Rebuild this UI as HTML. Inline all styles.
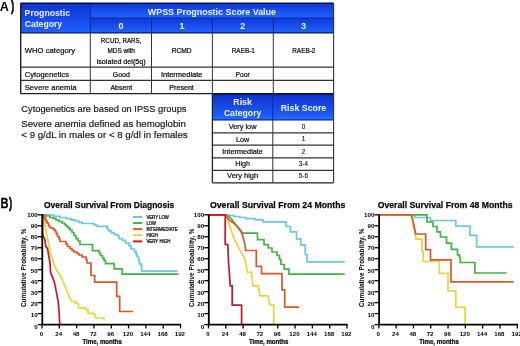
<!DOCTYPE html>
<html><head><meta charset="utf-8"><style>
html,body{margin:0;padding:0;background:#fff;}
body{width:520px;height:346px;overflow:hidden;}
svg{display:block;font-family:"Liberation Sans", sans-serif;will-change:transform;}
</style></head><body>
<svg width="520" height="346" viewBox="0 0 520 346">
<defs>
<linearGradient id="hg" x1="0" y1="0" x2="0" y2="1">
<stop offset="0" stop-color="#0e32d2"/><stop offset="1" stop-color="#1f62ff"/>
</linearGradient>
<linearGradient id="hg2" x1="0" y1="0" x2="0" y2="1">
<stop offset="0" stop-color="#0f38d8"/><stop offset="1" stop-color="#2064ff"/>
</linearGradient>
<linearGradient id="hg3" x1="0" y1="0" x2="0" y2="1">
<stop offset="0" stop-color="#0e30cc"/><stop offset="0.85" stop-color="#1e5ef8"/><stop offset="1" stop-color="#2a6cff"/>
</linearGradient>
</defs>
<rect width="520" height="346" fill="#fff"/>
<text x="-0.2" y="10.8" font-size="12.8" font-weight="bold" fill="#000" textLength="9.2" lengthAdjust="spacingAndGlyphs">A</text>
<text x="11.0" y="11.0" font-size="14.6" stroke="#000" stroke-width="0.5" font-weight="bold" fill="#000" textLength="3.2" lengthAdjust="spacingAndGlyphs">)</text>
<rect x="20.7" y="3.3" width="312.90000000000003" height="29.599999999999998" fill="url(#hg)"/>
<rect x="90.3" y="18.0" width="243.3" height="14.899999999999999" fill="url(#hg2)"/>
<rect x="90.3" y="3.3" width="243.3" height="14.7" fill="url(#hg2)"/>
<line x1="20.7" y1="3.3" x2="333.6" y2="3.3" stroke="#06103e" stroke-width="1.5"/>
<line x1="90.3" y1="18.0" x2="333.6" y2="18.0" stroke="#0c2a9a" stroke-width="1.1"/>
<line x1="20.7" y1="32.9" x2="333.6" y2="32.9" stroke="#0b1a55" stroke-width="1.3"/>
<line x1="90.3" y1="3.3" x2="90.3" y2="32.9" stroke="#0c2a9a" stroke-width="1"/>
<line x1="151.5" y1="18.0" x2="151.5" y2="32.9" stroke="#0c2a9a" stroke-width="1"/>
<line x1="212.4" y1="18.0" x2="212.4" y2="32.9" stroke="#0c2a9a" stroke-width="1"/>
<line x1="273.3" y1="18.0" x2="273.3" y2="32.9" stroke="#0c2a9a" stroke-width="1"/>
<line x1="20.7" y1="67.2" x2="333.6" y2="67.2" stroke="#333" stroke-width="1.2"/>
<line x1="20.7" y1="80.4" x2="333.6" y2="80.4" stroke="#333" stroke-width="1.2"/>
<line x1="20.7" y1="93.7" x2="333.6" y2="93.7" stroke="#222" stroke-width="1.3"/>
<line x1="90.3" y1="32.9" x2="90.3" y2="93.7" stroke="#333" stroke-width="1"/>
<line x1="151.5" y1="32.9" x2="151.5" y2="93.7" stroke="#333" stroke-width="1"/>
<line x1="212.4" y1="32.9" x2="212.4" y2="93.7" stroke="#333" stroke-width="1"/>
<line x1="273.3" y1="32.9" x2="273.3" y2="93.7" stroke="#333" stroke-width="1"/>
<line x1="20.7" y1="3.3" x2="20.7" y2="93.7" stroke="#222" stroke-width="1.4"/>
<line x1="333.6" y1="3.3" x2="333.6" y2="93.7" stroke="#333" stroke-width="1.1"/>
<text x="24.6" y="16.2" font-size="8.8" font-weight="bold" fill="#eef4ff" textLength="45.4" lengthAdjust="spacingAndGlyphs">Prognostic</text>
<text x="24.7" y="27.2" font-size="8.8" font-weight="bold" fill="#eef4ff" textLength="37.4" lengthAdjust="spacingAndGlyphs">Category</text>
<text x="147.8" y="14.5" font-size="8.9" font-weight="bold" fill="#eef4ff" textLength="128.2" lengthAdjust="spacingAndGlyphs">WPSS Prognostic Score Value</text>
<text x="120.9" y="29.0" font-size="9" font-weight="bold" text-anchor="middle" fill="#eef4ff">0</text>
<text x="181.95" y="29.0" font-size="9" font-weight="bold" text-anchor="middle" fill="#eef4ff">1</text>
<text x="242.85000000000002" y="29.0" font-size="9" font-weight="bold" text-anchor="middle" fill="#eef4ff">2</text>
<text x="303.45000000000005" y="29.0" font-size="9" font-weight="bold" text-anchor="middle" fill="#eef4ff">3</text>
<text x="24.7" y="53.2" font-size="7.8" stroke="#111" stroke-width="0.2" textLength="50.5" lengthAdjust="spacingAndGlyphs">WHO category</text>
<text x="24.7" y="76.8" font-size="7.8" stroke="#111" stroke-width="0.2" textLength="44.3" lengthAdjust="spacingAndGlyphs">Cytogenetics</text>
<text x="24.7" y="90.2" font-size="7.8" stroke="#111" stroke-width="0.2" textLength="51.8" lengthAdjust="spacingAndGlyphs">Severe anemia</text>
<text x="121.2" y="42.6" font-size="7.2" stroke="#111" stroke-width="0.22" text-anchor="middle" textLength="40.7" lengthAdjust="spacingAndGlyphs">RCUD, RARS,</text>
<text x="121.2" y="53.1" font-size="7.2" stroke="#111" stroke-width="0.22" text-anchor="middle" textLength="27.5" lengthAdjust="spacingAndGlyphs">MDS with</text>
<text x="121.2" y="63.6" font-size="7.2" stroke="#111" stroke-width="0.22" text-anchor="middle" textLength="49.0" lengthAdjust="spacingAndGlyphs">isolated del(5q)</text>
<text x="181.7" y="53.1" font-size="7.2" stroke="#111" stroke-width="0.22" text-anchor="middle" textLength="20.0" lengthAdjust="spacingAndGlyphs">RCMD</text>
<text x="243.3" y="53.2" font-size="7.2" stroke="#111" stroke-width="0.22" text-anchor="middle" textLength="23.1" lengthAdjust="spacingAndGlyphs">RAEB-1</text>
<text x="303.8" y="53.2" font-size="7.2" stroke="#111" stroke-width="0.22" text-anchor="middle" textLength="23.1" lengthAdjust="spacingAndGlyphs">RAEB-2</text>
<text x="121.3" y="76.8" font-size="7.2" stroke="#111" stroke-width="0.22" text-anchor="middle" textLength="17.0" lengthAdjust="spacingAndGlyphs">Good</text>
<text x="181.7" y="76.8" font-size="7.2" stroke="#111" stroke-width="0.22" text-anchor="middle" textLength="41.6" lengthAdjust="spacingAndGlyphs">Intermediate</text>
<text x="242.6" y="76.7" font-size="7.2" stroke="#111" stroke-width="0.22" text-anchor="middle" textLength="14.2" lengthAdjust="spacingAndGlyphs">Poor</text>
<text x="121.3" y="90.1" font-size="7.2" stroke="#111" stroke-width="0.22" text-anchor="middle" textLength="21.7" lengthAdjust="spacingAndGlyphs">Absent</text>
<text x="181.6" y="90.1" font-size="7.2" stroke="#111" stroke-width="0.22" text-anchor="middle" textLength="24.5" lengthAdjust="spacingAndGlyphs">Present</text>
<text x="21.3" y="112.4" font-size="9.6" stroke="#1a1a1a" stroke-width="0.2" fill="#1a1a1a" textLength="165.2" lengthAdjust="spacingAndGlyphs">Cytogenetics are based on IPSS groups</text>
<text x="21.3" y="127.1" font-size="9.6" stroke="#1a1a1a" stroke-width="0.2" fill="#1a1a1a" textLength="164.5" lengthAdjust="spacingAndGlyphs">Severe anemia defined as hemoglobin</text>
<text x="21.3" y="137.9" font-size="9.6" stroke="#1a1a1a" stroke-width="0.2" fill="#1a1a1a" textLength="166.4" lengthAdjust="spacingAndGlyphs">&lt; 9 g/dL in males or &lt; 8 g/dl in females</text>
<rect x="212.4" y="94.0" width="121.20000000000002" height="26.0" fill="url(#hg3)"/>
<line x1="212.4" y1="94.0" x2="333.6" y2="94.0" stroke="#06103e" stroke-width="1.5"/>
<line x1="212.4" y1="120.0" x2="333.6" y2="120.0" stroke="#0b1a55" stroke-width="1.2"/>
<line x1="272.8" y1="94.0" x2="272.8" y2="120.0" stroke="#0c2a9a" stroke-width="1"/>
<line x1="212.4" y1="132.9" x2="333.6" y2="132.9" stroke="#333" stroke-width="1.2"/>
<line x1="212.4" y1="145.2" x2="333.6" y2="145.2" stroke="#333" stroke-width="1.2"/>
<line x1="212.4" y1="157.8" x2="333.6" y2="157.8" stroke="#333" stroke-width="1.2"/>
<line x1="212.4" y1="170.3" x2="333.6" y2="170.3" stroke="#333" stroke-width="1.2"/>
<line x1="212.4" y1="182.8" x2="333.6" y2="182.8" stroke="#222" stroke-width="1.3"/>
<line x1="272.8" y1="120.0" x2="272.8" y2="182.8" stroke="#333" stroke-width="1"/>
<line x1="212.4" y1="94.0" x2="212.4" y2="182.8" stroke="#222" stroke-width="1.3"/>
<line x1="333.6" y1="94.0" x2="333.6" y2="182.8" stroke="#333" stroke-width="1.1"/>
<text x="242.6" y="105.2" font-size="8.8" font-weight="bold" text-anchor="middle" fill="#eef4ff" textLength="18.6" lengthAdjust="spacingAndGlyphs">Risk</text>
<text x="242.6" y="116.1" font-size="8.8" font-weight="bold" text-anchor="middle" fill="#eef4ff" textLength="37.4" lengthAdjust="spacingAndGlyphs">Category</text>
<text x="303.5" y="110.9" font-size="8.8" font-weight="bold" text-anchor="middle" fill="#eef4ff" textLength="45.5" lengthAdjust="spacingAndGlyphs">Risk Score</text>
<text x="242.6" y="129.2" font-size="7.5" stroke="#111" stroke-width="0.2" text-anchor="middle" textLength="27.9" lengthAdjust="spacingAndGlyphs">Very low</text>
<text x="303.4" y="128.89999999999998" font-size="6.3" stroke="#111" stroke-width="0.08" text-anchor="middle">0</text>
<text x="242.6" y="141.6" font-size="7.5" stroke="#111" stroke-width="0.2" text-anchor="middle" textLength="13.2" lengthAdjust="spacingAndGlyphs">Low</text>
<text x="303.4" y="141.29999999999998" font-size="6.3" stroke="#111" stroke-width="0.08" text-anchor="middle">1</text>
<text x="242.6" y="153.9" font-size="7.5" stroke="#111" stroke-width="0.2" text-anchor="middle" textLength="40.7" lengthAdjust="spacingAndGlyphs">Intermediate</text>
<text x="303.4" y="153.6" font-size="6.3" stroke="#111" stroke-width="0.08" text-anchor="middle">2</text>
<text x="242.6" y="166.4" font-size="7.5" stroke="#111" stroke-width="0.2" text-anchor="middle" textLength="14.5" lengthAdjust="spacingAndGlyphs">High</text>
<text x="303.4" y="166.1" font-size="6.3" stroke="#111" stroke-width="0.08" text-anchor="middle">3-4</text>
<text x="242.6" y="178.1" font-size="7.5" stroke="#111" stroke-width="0.2" text-anchor="middle" textLength="31.0" lengthAdjust="spacingAndGlyphs">Very high</text>
<text x="303.4" y="177.79999999999998" font-size="6.3" stroke="#111" stroke-width="0.08" text-anchor="middle">5-6</text>
<text x="0.5" y="207.6" font-size="13.8" stroke="#000" stroke-width="0.35" font-weight="bold" fill="#000" textLength="8.0" lengthAdjust="spacingAndGlyphs">B</text>
<text x="9.0" y="207.9" font-size="14.6" stroke="#000" stroke-width="0.5" font-weight="bold" fill="#000" textLength="3.2" lengthAdjust="spacingAndGlyphs">)</text>
<text x="44.0" y="208.0" font-size="9.8" stroke="#111" stroke-width="0.25" font-weight="bold" textLength="130.3" lengthAdjust="spacingAndGlyphs">Overall Survival From Diagnosis</text>
<line x1="37.7" y1="324.60" x2="42.0" y2="324.60" stroke="#000" stroke-width="1.3"/>
<text x="37.6" y="328.5" font-size="6.2" font-weight="bold" text-anchor="end">0</text>
<line x1="37.7" y1="313.62" x2="42.0" y2="313.62" stroke="#000" stroke-width="1.3"/>
<text x="37.6" y="317.31" font-size="6.2" font-weight="bold" text-anchor="end">10</text>
<line x1="37.7" y1="302.64" x2="42.0" y2="302.64" stroke="#000" stroke-width="1.3"/>
<text x="37.6" y="306.12" font-size="6.2" font-weight="bold" text-anchor="end">20</text>
<line x1="37.7" y1="291.66" x2="42.0" y2="291.66" stroke="#000" stroke-width="1.3"/>
<text x="37.6" y="294.93" font-size="6.2" font-weight="bold" text-anchor="end">30</text>
<line x1="37.7" y1="280.68" x2="42.0" y2="280.68" stroke="#000" stroke-width="1.3"/>
<text x="37.6" y="283.74" font-size="6.2" font-weight="bold" text-anchor="end">40</text>
<line x1="37.7" y1="269.70" x2="42.0" y2="269.70" stroke="#000" stroke-width="1.3"/>
<text x="37.6" y="272.55" font-size="6.2" font-weight="bold" text-anchor="end">50</text>
<line x1="37.7" y1="258.72" x2="42.0" y2="258.72" stroke="#000" stroke-width="1.3"/>
<text x="37.6" y="261.36" font-size="6.2" font-weight="bold" text-anchor="end">60</text>
<line x1="37.7" y1="247.74" x2="42.0" y2="247.74" stroke="#000" stroke-width="1.3"/>
<text x="37.6" y="250.17" font-size="6.2" font-weight="bold" text-anchor="end">70</text>
<line x1="37.7" y1="236.76" x2="42.0" y2="236.76" stroke="#000" stroke-width="1.3"/>
<text x="37.6" y="238.98" font-size="6.2" font-weight="bold" text-anchor="end">80</text>
<line x1="37.7" y1="225.78" x2="42.0" y2="225.78" stroke="#000" stroke-width="1.3"/>
<text x="37.6" y="227.79" font-size="6.2" font-weight="bold" text-anchor="end">90</text>
<line x1="37.7" y1="214.80" x2="42.0" y2="214.80" stroke="#000" stroke-width="1.3"/>
<text x="37.6" y="216.6" font-size="6.2" font-weight="bold" text-anchor="end">100</text>
<line x1="42.00" y1="324.6" x2="42.00" y2="328.40000000000003" stroke="#000" stroke-width="1.3"/>
<text x="41.4" y="336.0" font-size="6.1" font-weight="bold" text-anchor="middle">0</text>
<line x1="59.31" y1="324.6" x2="59.31" y2="328.40000000000003" stroke="#000" stroke-width="1.3"/>
<text x="58.71" y="336.0" font-size="6.1" font-weight="bold" text-anchor="middle">24</text>
<line x1="76.62" y1="324.6" x2="76.62" y2="328.40000000000003" stroke="#000" stroke-width="1.3"/>
<text x="76.03" y="336.0" font-size="6.1" font-weight="bold" text-anchor="middle">48</text>
<line x1="93.94" y1="324.6" x2="93.94" y2="328.40000000000003" stroke="#000" stroke-width="1.3"/>
<text x="93.34" y="336.0" font-size="6.1" font-weight="bold" text-anchor="middle">72</text>
<line x1="111.25" y1="324.6" x2="111.25" y2="328.40000000000003" stroke="#000" stroke-width="1.3"/>
<text x="110.65" y="336.0" font-size="6.1" font-weight="bold" text-anchor="middle">96</text>
<line x1="128.56" y1="324.6" x2="128.56" y2="328.40000000000003" stroke="#000" stroke-width="1.3"/>
<text x="127.96" y="336.0" font-size="6.1" font-weight="bold" text-anchor="middle">120</text>
<line x1="145.88" y1="324.6" x2="145.88" y2="328.40000000000003" stroke="#000" stroke-width="1.3"/>
<text x="145.28" y="336.0" font-size="6.1" font-weight="bold" text-anchor="middle">144</text>
<line x1="163.19" y1="324.6" x2="163.19" y2="328.40000000000003" stroke="#000" stroke-width="1.3"/>
<text x="162.59" y="336.0" font-size="6.1" font-weight="bold" text-anchor="middle">168</text>
<line x1="180.50" y1="324.6" x2="180.50" y2="328.40000000000003" stroke="#000" stroke-width="1.3"/>
<text x="179.9" y="336.0" font-size="6.1" font-weight="bold" text-anchor="middle">192</text>
<text x="102.2" y="344.3" font-size="6.6" stroke="#111" stroke-width="0.22" font-weight="bold" text-anchor="middle" textLength="39.6" lengthAdjust="spacingAndGlyphs">Time, months</text>
<text x="0" y="0" font-size="6.8" font-weight="bold" text-anchor="middle" textLength="78.5" lengthAdjust="spacingAndGlyphs" transform="translate(26.3,267.8) rotate(-90)">Cumulative Probability, %</text>
<text x="210.0" y="208.0" font-size="9.8" stroke="#111" stroke-width="0.25" font-weight="bold" textLength="135.4" lengthAdjust="spacingAndGlyphs">Overall Survival From 24 Months</text>
<line x1="204.2" y1="324.60" x2="208.5" y2="324.60" stroke="#000" stroke-width="1.3"/>
<text x="204.1" y="328.5" font-size="6.2" font-weight="bold" text-anchor="end">0</text>
<line x1="204.2" y1="313.62" x2="208.5" y2="313.62" stroke="#000" stroke-width="1.3"/>
<text x="204.1" y="317.31" font-size="6.2" font-weight="bold" text-anchor="end">10</text>
<line x1="204.2" y1="302.64" x2="208.5" y2="302.64" stroke="#000" stroke-width="1.3"/>
<text x="204.1" y="306.12" font-size="6.2" font-weight="bold" text-anchor="end">20</text>
<line x1="204.2" y1="291.66" x2="208.5" y2="291.66" stroke="#000" stroke-width="1.3"/>
<text x="204.1" y="294.93" font-size="6.2" font-weight="bold" text-anchor="end">30</text>
<line x1="204.2" y1="280.68" x2="208.5" y2="280.68" stroke="#000" stroke-width="1.3"/>
<text x="204.1" y="283.74" font-size="6.2" font-weight="bold" text-anchor="end">40</text>
<line x1="204.2" y1="269.70" x2="208.5" y2="269.70" stroke="#000" stroke-width="1.3"/>
<text x="204.1" y="272.55" font-size="6.2" font-weight="bold" text-anchor="end">50</text>
<line x1="204.2" y1="258.72" x2="208.5" y2="258.72" stroke="#000" stroke-width="1.3"/>
<text x="204.1" y="261.36" font-size="6.2" font-weight="bold" text-anchor="end">60</text>
<line x1="204.2" y1="247.74" x2="208.5" y2="247.74" stroke="#000" stroke-width="1.3"/>
<text x="204.1" y="250.17" font-size="6.2" font-weight="bold" text-anchor="end">70</text>
<line x1="204.2" y1="236.76" x2="208.5" y2="236.76" stroke="#000" stroke-width="1.3"/>
<text x="204.1" y="238.98" font-size="6.2" font-weight="bold" text-anchor="end">80</text>
<line x1="204.2" y1="225.78" x2="208.5" y2="225.78" stroke="#000" stroke-width="1.3"/>
<text x="204.1" y="227.79" font-size="6.2" font-weight="bold" text-anchor="end">90</text>
<line x1="204.2" y1="214.80" x2="208.5" y2="214.80" stroke="#000" stroke-width="1.3"/>
<text x="204.1" y="216.6" font-size="6.2" font-weight="bold" text-anchor="end">100</text>
<line x1="208.50" y1="324.6" x2="208.50" y2="328.40000000000003" stroke="#000" stroke-width="1.3"/>
<text x="207.9" y="336.0" font-size="6.1" font-weight="bold" text-anchor="middle">0</text>
<line x1="225.81" y1="324.6" x2="225.81" y2="328.40000000000003" stroke="#000" stroke-width="1.3"/>
<text x="225.21" y="336.0" font-size="6.1" font-weight="bold" text-anchor="middle">24</text>
<line x1="243.12" y1="324.6" x2="243.12" y2="328.40000000000003" stroke="#000" stroke-width="1.3"/>
<text x="242.53" y="336.0" font-size="6.1" font-weight="bold" text-anchor="middle">48</text>
<line x1="260.44" y1="324.6" x2="260.44" y2="328.40000000000003" stroke="#000" stroke-width="1.3"/>
<text x="259.84" y="336.0" font-size="6.1" font-weight="bold" text-anchor="middle">72</text>
<line x1="277.75" y1="324.6" x2="277.75" y2="328.40000000000003" stroke="#000" stroke-width="1.3"/>
<text x="277.15" y="336.0" font-size="6.1" font-weight="bold" text-anchor="middle">96</text>
<line x1="295.06" y1="324.6" x2="295.06" y2="328.40000000000003" stroke="#000" stroke-width="1.3"/>
<text x="294.46" y="336.0" font-size="6.1" font-weight="bold" text-anchor="middle">120</text>
<line x1="312.38" y1="324.6" x2="312.38" y2="328.40000000000003" stroke="#000" stroke-width="1.3"/>
<text x="311.77" y="336.0" font-size="6.1" font-weight="bold" text-anchor="middle">144</text>
<line x1="329.69" y1="324.6" x2="329.69" y2="328.40000000000003" stroke="#000" stroke-width="1.3"/>
<text x="329.09" y="336.0" font-size="6.1" font-weight="bold" text-anchor="middle">168</text>
<line x1="347.00" y1="324.6" x2="347.00" y2="328.40000000000003" stroke="#000" stroke-width="1.3"/>
<text x="346.4" y="336.0" font-size="6.1" font-weight="bold" text-anchor="middle">192</text>
<text x="268.7" y="344.3" font-size="6.6" stroke="#111" stroke-width="0.22" font-weight="bold" text-anchor="middle" textLength="39.6" lengthAdjust="spacingAndGlyphs">Time, months</text>
<text x="0" y="0" font-size="6.8" font-weight="bold" text-anchor="middle" textLength="78.5" lengthAdjust="spacingAndGlyphs" transform="translate(193.79999999999998,267.8) rotate(-90)">Cumulative Probability, %</text>
<text x="377.7" y="208.0" font-size="9.8" stroke="#111" stroke-width="0.25" font-weight="bold" textLength="134.9" lengthAdjust="spacingAndGlyphs">Overall Survival From 48 Months</text>
<line x1="374.5" y1="324.60" x2="378.8" y2="324.60" stroke="#000" stroke-width="1.3"/>
<text x="374.40000000000003" y="328.5" font-size="6.2" font-weight="bold" text-anchor="end">0</text>
<line x1="374.5" y1="313.62" x2="378.8" y2="313.62" stroke="#000" stroke-width="1.3"/>
<text x="374.40000000000003" y="317.31" font-size="6.2" font-weight="bold" text-anchor="end">10</text>
<line x1="374.5" y1="302.64" x2="378.8" y2="302.64" stroke="#000" stroke-width="1.3"/>
<text x="374.40000000000003" y="306.12" font-size="6.2" font-weight="bold" text-anchor="end">20</text>
<line x1="374.5" y1="291.66" x2="378.8" y2="291.66" stroke="#000" stroke-width="1.3"/>
<text x="374.40000000000003" y="294.93" font-size="6.2" font-weight="bold" text-anchor="end">30</text>
<line x1="374.5" y1="280.68" x2="378.8" y2="280.68" stroke="#000" stroke-width="1.3"/>
<text x="374.40000000000003" y="283.74" font-size="6.2" font-weight="bold" text-anchor="end">40</text>
<line x1="374.5" y1="269.70" x2="378.8" y2="269.70" stroke="#000" stroke-width="1.3"/>
<text x="374.40000000000003" y="272.55" font-size="6.2" font-weight="bold" text-anchor="end">50</text>
<line x1="374.5" y1="258.72" x2="378.8" y2="258.72" stroke="#000" stroke-width="1.3"/>
<text x="374.40000000000003" y="261.36" font-size="6.2" font-weight="bold" text-anchor="end">60</text>
<line x1="374.5" y1="247.74" x2="378.8" y2="247.74" stroke="#000" stroke-width="1.3"/>
<text x="374.40000000000003" y="250.17" font-size="6.2" font-weight="bold" text-anchor="end">70</text>
<line x1="374.5" y1="236.76" x2="378.8" y2="236.76" stroke="#000" stroke-width="1.3"/>
<text x="374.40000000000003" y="238.98" font-size="6.2" font-weight="bold" text-anchor="end">80</text>
<line x1="374.5" y1="225.78" x2="378.8" y2="225.78" stroke="#000" stroke-width="1.3"/>
<text x="374.40000000000003" y="227.79" font-size="6.2" font-weight="bold" text-anchor="end">90</text>
<line x1="374.5" y1="214.80" x2="378.8" y2="214.80" stroke="#000" stroke-width="1.3"/>
<text x="374.40000000000003" y="216.6" font-size="6.2" font-weight="bold" text-anchor="end">100</text>
<line x1="378.80" y1="324.6" x2="378.80" y2="328.40000000000003" stroke="#000" stroke-width="1.3"/>
<text x="378.2" y="336.0" font-size="6.1" font-weight="bold" text-anchor="middle">0</text>
<line x1="396.11" y1="324.6" x2="396.11" y2="328.40000000000003" stroke="#000" stroke-width="1.3"/>
<text x="395.51" y="336.0" font-size="6.1" font-weight="bold" text-anchor="middle">24</text>
<line x1="413.43" y1="324.6" x2="413.43" y2="328.40000000000003" stroke="#000" stroke-width="1.3"/>
<text x="412.82" y="336.0" font-size="6.1" font-weight="bold" text-anchor="middle">48</text>
<line x1="430.74" y1="324.6" x2="430.74" y2="328.40000000000003" stroke="#000" stroke-width="1.3"/>
<text x="430.14" y="336.0" font-size="6.1" font-weight="bold" text-anchor="middle">72</text>
<line x1="448.05" y1="324.6" x2="448.05" y2="328.40000000000003" stroke="#000" stroke-width="1.3"/>
<text x="447.45" y="336.0" font-size="6.1" font-weight="bold" text-anchor="middle">96</text>
<line x1="465.36" y1="324.6" x2="465.36" y2="328.40000000000003" stroke="#000" stroke-width="1.3"/>
<text x="464.76" y="336.0" font-size="6.1" font-weight="bold" text-anchor="middle">120</text>
<line x1="482.68" y1="324.6" x2="482.68" y2="328.40000000000003" stroke="#000" stroke-width="1.3"/>
<text x="482.07" y="336.0" font-size="6.1" font-weight="bold" text-anchor="middle">144</text>
<line x1="499.99" y1="324.6" x2="499.99" y2="328.40000000000003" stroke="#000" stroke-width="1.3"/>
<text x="499.39" y="336.0" font-size="6.1" font-weight="bold" text-anchor="middle">168</text>
<line x1="517.30" y1="324.6" x2="517.30" y2="328.40000000000003" stroke="#000" stroke-width="1.3"/>
<text x="516.7" y="336.0" font-size="6.1" font-weight="bold" text-anchor="middle">192</text>
<text x="439.0" y="344.3" font-size="6.6" stroke="#111" stroke-width="0.22" font-weight="bold" text-anchor="middle" textLength="39.6" lengthAdjust="spacingAndGlyphs">Time, months</text>
<text x="0" y="0" font-size="6.8" font-weight="bold" text-anchor="middle" textLength="78.5" lengthAdjust="spacingAndGlyphs" transform="translate(363.8,267.8) rotate(-90)">Cumulative Probability, %</text>
<path d="M42,215 H54 V216.3 H60 V217.5 H66 V218.7 H71 V219.8 H75 V221 H79 V222.3 H82 V223.5 H94 V225 H97 V226.3 H107 V228.5 H108.5 V230.8 H111 V232.6 H114 V234.3 H117 V235.5 H119 V238.6 H122.5 V240.4 H125.5 V243 H129 V245.6 H131 V249 H134.5 V251.6 H136 V254 H137 V256.5 H138.5 V260.3 H139.5 V263.9 H141.3 V266 H141.7 V271.2 H177.6" fill="none" stroke="#6cc6dc" stroke-width="1.7" stroke-linejoin="miter"/>
<path d="M42,215 H46 V216 H50 V217.5 H53 V218.5 H56 V220 H59 V221.5 H62 V223 H64.5 V224.5 H66 V226 H68 V228 H70 V230 H72 V232.5 H74 V235.5 H76 V238.6 H78 V241 H80 V244.5 H92.5 V250.7 H99 V253 H100.5 V255.5 H102.5 V258 H104 V260.5 H105.5 V263.7 H114.2 V268.8 H122.2 V274.2 H178.6" fill="none" stroke="#4aae48" stroke-width="1.7" stroke-linejoin="miter"/>
<path d="M42.5,215 L44.1,219 L45.8,229.3 L47.5,238 L49.3,246.7 L51,255.4 L54,264 L56.5,270 L60,275 L63.7,283.2 L67.3,292.3 L70,298 L72,301.5 H76 V303.5 H78.5 V307.8 H85.5 V309.7 H88 V313.3 H93.5 V314.5 H95.5 V318 H104 V320.6" fill="none" stroke="#e8d43c" stroke-width="1.7" stroke-linejoin="miter"/>
<path d="M42,215 H43.5 V217 H45 V219 H46 V221 H47 V223 H48.5 V225.5 H49.5 V227.5 H52 V228.5 H54 V230 H55.5 V232 H56.5 V234 H57.5 V236.5 H59 V239 H60 V241.5 H66 V244 H67.5 V246.5 H70 V248.5 H72 V250.5 H74 V252 H77 V253.5 H79 V255 H82 V257 H86 V259.5 H87 V263 H91 V275.5 H94.7 V282.2 H116.7 V296.4 H119.7 V311.5 H133" fill="none" stroke="#d6582c" stroke-width="1.7" stroke-linejoin="miter"/>
<path d="M42.6,215 V234 L43.5,237 L44.9,239.7 L45.8,246.7 L47.5,248.4 L48.4,253.6 L49.3,258.8 L50.1,264 L50.5,272.3 L52.8,277.8 L54.6,283.2 L56.4,292.3 L58.2,301.5 L59.1,312.4 L59.7,324" fill="none" stroke="#c0182e" stroke-width="1.7" stroke-linejoin="miter"/>
<path d="M208.5,214.8 H228 V215.5 H234 V216.5 H240 V217.5 H246 V218.7 H255 V219.8 H263 V221.9 H286 V226.5 H290.5 V231.8 H296.5 V238.8 H300.8 V244.8 H305.2 V254.5 H307 V261.8 H344.7" fill="none" stroke="#6cc6dc" stroke-width="1.7" stroke-linejoin="miter"/>
<path d="M208.5,214.8 H226 L228,216 L231,218.4 L233.5,221.5 L236.2,225.3 L238.5,228.5 L241,232 L242.3,233.1 H257.5 V239.6 H264 V244.7 H268.3 V248 H272 V252 H277 V255.5 H279.5 V259.5 H281 V264.5 H284.2 V269.2 H289 V274.2 H344.7" fill="none" stroke="#4aae48" stroke-width="1.7" stroke-linejoin="miter"/>
<path d="M208.5,214.8 H226.5 L227.5,219 L229.2,224.5 L232.1,233.1 L235,240.4 L237.9,246.1 L240.8,251.9 L243.7,256.3 L245,260 L246.3,265.9 L247.3,272.3 H251.5 L252,278 L253,285.8 H258.3 L259,290 L260,295.8 H268 L268.8,300 L269.8,304.7 H273.8 V324" fill="none" stroke="#e8d43c" stroke-width="1.7" stroke-linejoin="miter"/>
<path d="M208.5,214.8 H226 L227.5,218 L229.3,220.1 L232,222 L234.5,223.6 L236,225.5 L238,227.3 L240,229.5 L241.4,231.4 L242.3,234.5 L243.1,237.5 L244,241 L244.9,244.4 L245.7,250.5 H256.3 V266.3 H261.5 V273.6 H282 V289.9 H284.7 V307.2 H299.1" fill="none" stroke="#d6582c" stroke-width="1.7" stroke-linejoin="miter"/>
<path d="M208.5,214.8 H225.2 V244.5 H227.8 L228.5,262 L229.3,272 L230.2,285.8 H232.2 V305.2 H241.6 V324" fill="none" stroke="#c0182e" stroke-width="1.7" stroke-linejoin="miter"/>
<path d="M378.8,214.8 H414.5 V217.5 H430.4 V220.5 H455.8 V226.2 H470 V235.4 H476.6 V246.8 H513.8" fill="none" stroke="#6cc6dc" stroke-width="1.7" stroke-linejoin="miter"/>
<path d="M378.8,214.8 H427 V222 H433 V226.5 H437 V231.8 H440.5 V237 H446.5 V243.2 H451.5 V249.3 H457.5 V254.9 H459.5 V257.5 H460.3 V262.5 H474.8 V273 H506.5" fill="none" stroke="#4aae48" stroke-width="1.7" stroke-linejoin="miter"/>
<path d="M378.8,214.8 H411.5 L413.1,225.3 L414.9,232.3 L416.1,239.2 H422 V251.3 H423.2 V261.5 H439.3 V273.3 H448 V290.8 H455.8 V307.3 H465.2 V324" fill="none" stroke="#e8d43c" stroke-width="1.7" stroke-linejoin="miter"/>
<path d="M378.8,214.8 H411.5 L412.3,218.4 L413.2,222 L414,225.3 L414.8,229.5 L415.7,234 H425.7 V249.6 H430.5 V259.8 H451 V281.9 H513.7" fill="none" stroke="#d6582c" stroke-width="1.7" stroke-linejoin="miter"/>
<path d="M42.3,214.20000000000002 V324.6 H181.1" fill="none" stroke="#000" stroke-width="1.8"/>
<path d="M208.8,214.20000000000002 V324.6 H347.6" fill="none" stroke="#000" stroke-width="1.8"/>
<path d="M379.1,214.20000000000002 V324.6 H517.9" fill="none" stroke="#000" stroke-width="1.8"/>
<line x1="133.1" y1="217.0" x2="142.3" y2="217.0" stroke="#6cc6dc" stroke-width="2"/>
<text x="146.4" y="218.8" font-size="4.8" stroke="#000" stroke-width="0.22" fill="#000" textLength="22.5" lengthAdjust="spacingAndGlyphs">VERY LOW</text>
<line x1="133.1" y1="223.0" x2="142.3" y2="223.0" stroke="#4aae48" stroke-width="2"/>
<text x="146.4" y="224.8" font-size="4.8" stroke="#000" stroke-width="0.22" fill="#000" textLength="9.5" lengthAdjust="spacingAndGlyphs">LOW</text>
<line x1="133.1" y1="229.1" x2="142.3" y2="229.1" stroke="#d6582c" stroke-width="2"/>
<text x="146.4" y="230.9" font-size="4.8" stroke="#000" stroke-width="0.22" fill="#000" textLength="31.2" lengthAdjust="spacingAndGlyphs">INTERMEDIATE</text>
<line x1="133.1" y1="235.2" x2="142.3" y2="235.2" stroke="#e8d43c" stroke-width="2"/>
<text x="146.4" y="237.0" font-size="4.8" stroke="#000" stroke-width="0.22" fill="#000" textLength="11.5" lengthAdjust="spacingAndGlyphs">HIGH</text>
<line x1="133.1" y1="241.4" x2="142.3" y2="241.4" stroke="#c0182e" stroke-width="2"/>
<text x="146.4" y="243.20000000000002" font-size="4.8" stroke="#000" stroke-width="0.22" fill="#000" textLength="24.0" lengthAdjust="spacingAndGlyphs">VERY HIGH</text>
</svg>
</body></html>
